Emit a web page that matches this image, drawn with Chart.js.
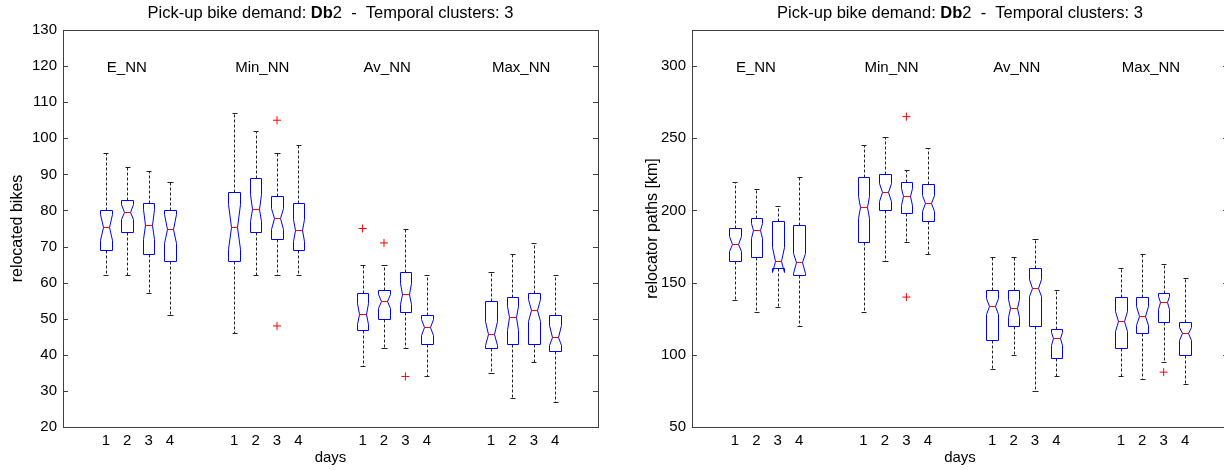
<!DOCTYPE html>
<html>
<head>
<meta charset="utf-8">
<script src="https://cdn.jsdelivr.net/npm/chart.js@4.4.0/dist/chart.umd.min.js"></script>
<style>
	html, body { margin: 0; padding: 0; background: #fff; overflow: hidden; }
	#wrap { position: relative; width: 1224px; height: 470px; overflow: hidden; }
	canvas { position: absolute; top: 0; }
</style>
</head>
<body>
<div id="wrap">
	<canvas id="graficoBikes" width="612" height="470" style="left:0px"></canvas>
	<canvas id="graficoPaths" width="628" height="470" style="left:612px"></canvas>
</div>
<script>
// categories
var days = ['1', '2', '3', '4'];
var methods = ['E_NN', 'Min_NN', 'Av_NN', 'Max_NN'];
var titleParts = [['Pick-up bike demand: ', false], ['Db', true], ['2  -  Temporal clusters: 3', false]];

// relocated bikes (order: E_NN 1..4, Min_NN 1..4, Av_NN 1..4, Max_NN 1..4)
var bikesLow    = [62, 62, 57, 51,   46, 62, 62, 62,   37, 42, 42, 34,   35, 28, 38, 27];
var bikesQ1     = [69, 74, 68, 66,   66, 74, 72, 69,   47, 50, 52, 43,   42, 43, 43, 41];
var bikesMedian = [75.4, 79.5, 76, 75,   75.5, 80.5, 78, 74.5,   51.4, 54.8, 56.9, 47.8,   45.8, 50.4, 52.4, 44.9];
var bikesQ3     = [80, 83, 82, 80,   85, 89, 84, 82,   57, 58, 63, 51,   55, 56, 57, 51];
var bikesHigh   = [96, 92, 91, 88,   107, 102, 96, 98,   65, 65, 75, 62,   63, 68, 71, 62];
var bikesNotchLo = [71.9, 77.7, 72, 71,   69.2, 77, 75, 71.5,   48.5, 53, 54.1, 45.6,   42.8, 47, 49.3, 42.8];
var bikesNotchHi = [78.9, 81.7, 80.5, 78.9,   81.7, 84.5, 80.8, 77.5,   54.4, 56.8, 59.8, 50,   49.3, 53.6, 55.4, 48.2];
var bikesOutBox = [6, 6, 8, 9, 10];
var bikesOutVal = [105, 48, 75, 71, 34];
var bikesTicks = [20, 30, 40, 50, 60, 70, 80, 90, 100, 110, 120, 130];

// relocator paths [km]
var pathsLow    = [138, 130, 133, 120,   130, 165, 178, 170,   90, 100, 75, 85,   85, 83, 95, 80];
var pathsQ1     = [165, 168, 160, 155,   178, 200, 198, 193,   110, 120, 120, 98,   105, 115, 123, 100];
var pathsMedian = [176.5, 186.6, 164.7, 164,   202.3, 212.8, 210, 205,   134, 132.6, 146.6, 111.6,   123.2, 126.8, 136.5, 115];
var pathsQ3     = [188, 195, 193, 190,   223, 225, 220, 218,   145, 145, 160, 118,   140, 140, 143, 123];
var pathsHigh   = [220, 215, 203, 223,   245, 251, 228, 243,   168, 168, 180, 145,   160, 170, 163, 153];
var pathsNotchLo = [171.6, 180.8, 157.7, 157,   194.9, 206.8, 203.9, 199.5,   128.5, 126.2, 140.9, 107,   116.3, 120.9, 131.8, 110.5];
var pathsNotchHi = [182, 191.5, 175, 170.5,   209.9, 219, 215.8, 211,   139.4, 138.8, 152.2, 115.6,   130.1, 133.6, 140.6, 119.6];
var pathsOutBox = [6, 6, 14];
var pathsOutVal = [265, 140, 88];
var pathsTicks = [50, 100, 150, 200, 250, 300];

var FONT = '"Liberation Sans", Arial, Helvetica, sans-serif';

function posicao(i) {
	return Math.floor(i / days.length) * 6 + (i % days.length);
}

var boxPlugin = {
	id: 'notchedBoxes',
	beforeDatasetsDraw: function(chart) {
		var cfg = chart.options.plugins.notchedBoxes;
		var ctx = chart.ctx, a = chart.chartArea;
		var sx = chart.scales.x, sy = chart.scales.y;
		var px = function(v) { return Math.round(sx.getPixelForValue(v)) + 0.5; };
		var py = function(v) { return Math.round(sy.getPixelForValue(v)) + 0.5; };
		ctx.save();

		// moldura e ticks internos
		ctx.strokeStyle = '#404040';
		ctx.lineWidth = 1;
		ctx.setLineDash([]);
		ctx.strokeRect(Math.round(a.left) + 0.5, Math.round(a.top) + 0.5, Math.round(a.right - a.left), Math.round(a.bottom - a.top));
		ctx.beginPath();
		cfg.ticks.forEach(function(t) {
			var yy = py(t);
			ctx.moveTo(a.left, yy); ctx.lineTo(a.left + 5, yy);
			ctx.moveTo(a.right, yy); ctx.lineTo(a.right - 5, yy);
		});
		ctx.stroke();

		// nomes dos metodos
		ctx.fillStyle = '#000';
		ctx.font = '15px ' + FONT;
		ctx.textAlign = 'left';
		ctx.textBaseline = 'middle';
		methods.forEach(function(m, g) {
			ctx.fillText(m, sx.getPixelForValue(g * 6) + 1, a.top + 38);
		});

		cfg.median.forEach(function(med, i) {
			var p = posicao(i);
			var cx = px(p);
			var L = px(p - 0.27), R = px(p + 0.27);
			var WL = px(p - 0.15), WR = px(p + 0.15);
			var cL = px(p - 0.12), cR = px(p + 0.12);
			var q1 = py(cfg.q1[i]), q3 = py(cfg.q3[i]), m = py(med);
			var nlo = py(cfg.notchLo[i]), nhi = py(cfg.notchHi[i]);
			var lo = py(cfg.low[i]), hi = py(cfg.high[i]);

			// bigodes tracejados
			ctx.strokeStyle = '#222';
			ctx.setLineDash([3, 2]);
			ctx.beginPath();
			ctx.moveTo(cx, q3); ctx.lineTo(cx, hi);
			ctx.moveTo(cx, q1); ctx.lineTo(cx, lo);
			ctx.stroke();
			ctx.setLineDash([]);
			ctx.beginPath();
			ctx.moveTo(cL, hi); ctx.lineTo(cR, hi);
			ctx.moveTo(cL, lo); ctx.lineTo(cR, lo);
			ctx.stroke();

			// caixa com entalhe
			ctx.strokeStyle = '#0000ff';
			ctx.beginPath();
			ctx.moveTo(L, q1);
			ctx.lineTo(L, nlo);
			ctx.lineTo(WL, m);
			ctx.lineTo(L, nhi);
			ctx.lineTo(L, q3);
			ctx.lineTo(R, q3);
			ctx.lineTo(R, nhi);
			ctx.lineTo(WR, m);
			ctx.lineTo(R, nlo);
			ctx.lineTo(R, q1);
			ctx.closePath();
			ctx.stroke();

			// mediana
			ctx.strokeStyle = '#ff0000';
			ctx.beginPath();
			ctx.moveTo(WL, m); ctx.lineTo(WR, m);
			ctx.stroke();
		});
		ctx.restore();
	},
	afterDraw: function(chart) {
		var ctx = chart.ctx, a = chart.chartArea;
		ctx.save();
		ctx.fillStyle = '#000';
		ctx.textBaseline = 'middle';
		ctx.textAlign = 'left';
		var total = 0;
		titleParts.forEach(function(p) {
			ctx.font = (p[1] ? 'bold ' : '') + '16.5px ' + FONT;
			total += ctx.measureText(p[0]).width;
		});
		var x = (a.left + a.right) / 2 - total / 2;
		titleParts.forEach(function(p) {
			ctx.font = (p[1] ? 'bold ' : '') + '16.5px ' + FONT;
			ctx.fillText(p[0], x, 13);
			x += ctx.measureText(p[0]).width;
		});
		ctx.restore();
	}
};

function criarGrafico(canvasId, s) {
	var ctx = document.getElementById(canvasId).getContext('2d');
	var pontos = s.outBox.map(function(b, k) {
		return { x: posicao(b), y: s.outVal[k] };
	});
	return new Chart(ctx, {
		type: 'scatter',
		data: {
			datasets: [{
				data: pontos,
				pointStyle: 'cross',
				pointRadius: 4,
				pointBorderWidth: 1,
				borderColor: '#ff0000',
				backgroundColor: '#ff0000'
			}]
		},
		options: {
			responsive: false,
			animation: false,
			events: [],
			layout: { padding: { top: 30, right: s.padRight, left: 0, bottom: 0 } },
			plugins: {
				legend: { display: false },
				tooltip: { enabled: false },
				notchedBoxes: {
					low: s.low, q1: s.q1, median: s.median, q3: s.q3, high: s.high,
					notchLo: s.notchLo, notchHi: s.notchHi, ticks: s.ticks
				}
			},
			scales: {
				x: {
					type: 'linear',
					min: -2,
					max: 23,
					grid: { display: false, drawTicks: false },
					border: { display: false },
					afterFit: function(scale) { scale.height = 43; },
					afterBuildTicks: function(scale) {
						scale.ticks = s.median.map(function(v, i) { return { value: posicao(i) }; });
					},
					ticks: {
						autoSkip: false,
						maxRotation: 0,
						padding: 5,
						color: '#000',
						font: { family: FONT, size: 15 },
						callback: function(value, index) { return days[index % days.length]; }
					},
					title: {
						display: true,
						text: 'days',
						color: '#000',
						font: { family: FONT, size: 15 },
						padding: { top: 0, bottom: 3 }
					}
				},
				y: {
					type: 'linear',
					min: s.ticks[0],
					max: s.yMax,
					grid: { display: false, drawTicks: false },
					border: { display: false },
					afterFit: function(scale) { scale.width = s.axisWidth; },
					afterBuildTicks: function(scale) {
						scale.ticks = s.ticks.map(function(v) { return { value: v }; });
					},
					ticks: {
						padding: 6,
						color: '#000',
						font: { family: FONT, size: 15 }
					},
					title: {
						display: true,
						text: s.yTitle,
						color: '#000',
						font: { family: FONT, size: 16 },
						padding: { top: s.yTitlePad, bottom: 0 }
					}
				}
			}
		},
		plugins: [boxPlugin]
	});
}

criarGrafico('graficoBikes', {
	low: bikesLow, q1: bikesQ1, median: bikesMedian, q3: bikesQ3, high: bikesHigh,
	notchLo: bikesNotchLo, notchHi: bikesNotchHi, outBox: bikesOutBox, outVal: bikesOutVal,
	ticks: bikesTicks, yMax: 130, yTitle: 'relocated bikes', yTitlePad: 8,
	axisWidth: 63, padRight: 14
});

criarGrafico('graficoPaths', {
	low: pathsLow, q1: pathsQ1, median: pathsMedian, q3: pathsQ3, high: pathsHigh,
	notchLo: pathsNotchLo, notchHi: pathsNotchHi, outBox: pathsOutBox, outVal: pathsOutVal,
	ticks: pathsTicks, yMax: 325, yTitle: 'relocator paths [km]', yTitlePad: 31,
	axisWidth: 80, padRight: 12
});
</script>
</body>
</html>
